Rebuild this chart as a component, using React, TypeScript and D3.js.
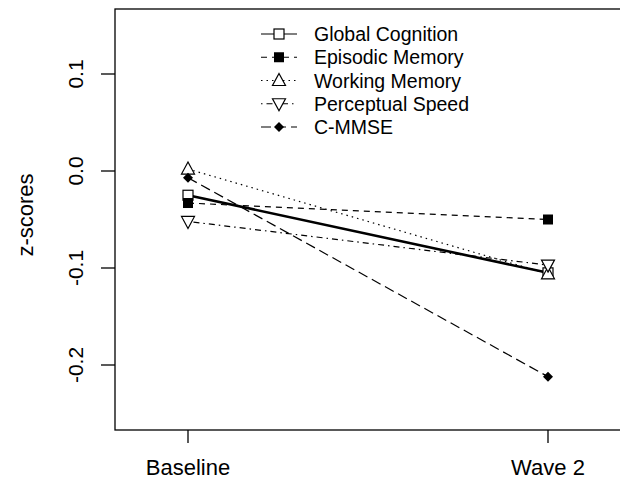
import React from 'react'
import * as d3 from 'd3'

// waves on the x axis
const waves = ['Baseline', 'Wave 2']
const yTicks = [0.1, 0.0, -0.1, -0.2]

const globalCognition = [-0.025, -0.105]
const episodicMemory = [-0.033, -0.050]
const workingMemory = [0.002, -0.106]
const perceptualSpeed = [-0.052, -0.097]
const cMMSE = [-0.007, -0.212]

const seriesNames = ['Global Cognition', 'Episodic Memory', 'Working Memory', 'Perceptual Speed', 'C-MMSE']

const FONT = 'Liberation Sans, Arial, sans-serif'

const Marker = ({shape, x, y}: {shape: string, x: number, y: number}) => {
  if (shape === 'openSquare') return <rect x={x - 5} y={y - 5} width={10} height={10} fill="#fff" stroke="#000" strokeWidth={1.2} />
  if (shape === 'square') return <rect x={x - 5} y={y - 5} width={10} height={10} fill="#000" />
  if (shape === 'triUp') return <path d={`M${x},${y - 7}L${x + 6.5},${y + 5}L${x - 6.5},${y + 5}Z`} fill="#fff" stroke="#000" strokeWidth={1.2} />
  if (shape === 'triDown') return <path d={`M${x},${y + 7}L${x + 6.5},${y - 5}L${x - 6.5},${y - 5}Z`} fill="#fff" stroke="#000" strokeWidth={1.2} />
  return <path d={`M${x},${y - 5}L${x + 5},${y}L${x},${y + 5}L${x - 5},${y}Z`} fill="#000" />
}

const App = () => {
  const width = 620
  const height = 481

  const x = d3.scalePoint<string>().domain(waves).range([188, 548])
  const y = d3.scaleLinear().domain([-0.2, 0.1]).range([365, 74])
  // R style labels use a plain hyphen
  const fmt = (v: number) => d3.format('.1f')(v).replace('\u2212', '-')

  const series = [
    {values: globalCognition, dash: '', lw: 2.6, legendLw: 1.2, shape: 'openSquare'},
    {values: episodicMemory, dash: '6,5', lw: 1.2, legendLw: 1.2, shape: 'square'},
    {values: workingMemory, dash: '1.5,4', lw: 1.2, legendLw: 1.2, shape: 'triUp'},
    {values: perceptualSpeed, dash: '1.5,4,6,4', lw: 1.2, legendLw: 1.2, shape: 'triDown'},
    {values: cMMSE, dash: '10,5', lw: 1.2, legendLw: 1.2, shape: 'diamond'},
  ]

  const line = d3.line<number>().x((_, i) => x(waves[i])!).y(d => y(d))

  const legendY = d3.scaleLinear().domain([0, 4]).range([34, 127])

  return (
    <svg width={width} height={height} style={{position: 'absolute', left: 0, top: 0}} fontFamily={FONT}>
      <rect width={width} height={height} fill="#fff" />
      {/* plot box, right edge falls outside the picture */}
      <rect x={115} y={9} width={530} height={421} fill="none" stroke="#000" strokeWidth={1.3} />

      {yTicks.map(t => (
        <g key={t}>
          <line x1={101} x2={115} y1={y(t)} y2={y(t)} stroke="#000" strokeWidth={1.3} />
          <text transform={`translate(83,${y(t)}) rotate(-90)`} textAnchor="middle" fontSize={21}>{fmt(t)}</text>
        </g>
      ))}
      <text transform={`translate(33,215) rotate(-90)`} textAnchor="middle" fontSize={22}>z-scores</text>

      {waves.map(w => (
        <g key={w}>
          <line x1={x(w)} x2={x(w)} y1={430} y2={443} stroke="#000" strokeWidth={1.3} />
          <text x={x(w)} y={475} textAnchor="middle" fontSize={22}>{w}</text>
        </g>
      ))}

      {series.map((s, i) => (
        <path key={i} d={line(s.values)!} fill="none" stroke="#000" strokeWidth={s.lw} strokeDasharray={s.dash || undefined} />
      ))}
      {series.map((s, i) => s.values.map((v, j) => (
        <Marker key={`${i}-${j}`} shape={s.shape} x={x(waves[j])!} y={y(v)} />
      )))}

      {seriesNames.map((name, i) => {
        const s = series[i]
        const ly = legendY(i)
        return (
          <g key={name}>
            <line x1={261} x2={297} y1={ly} y2={ly} stroke="#000" strokeWidth={s.legendLw} strokeDasharray={s.dash || undefined} />
            <Marker shape={s.shape} x={279} y={ly} />
            <text x={314} y={ly + 7} fontSize={19.5}>{name}</text>
          </g>
        )
      })}
    </svg>
  )
}

export default App
